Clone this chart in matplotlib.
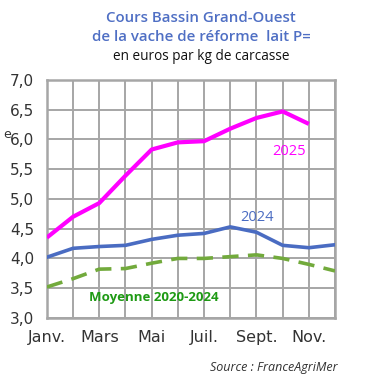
import numpy as np
import matplotlib
matplotlib.use("Agg")
import matplotlib.pyplot as plt

# Données
mois = ["Janv.", "Févr.", "Mars", "Avr.", "Mai", "Juin", "Juil.", "Août", "Sept.", "Oct.", "Nov.", "Déc."]
prix_2025 = [4.35, 4.70, 4.93, 5.39, 5.83, 5.95, 5.97, 6.18, 6.36, 6.47, 6.26]
prix_2024 = [4.02, 4.17, 4.20, 4.22, 4.32, 4.39, 4.42, 4.53, 4.44, 4.22, 4.18, 4.23]
moyenne_2020_2024 = [3.52, 3.66, 3.82, 3.83, 3.92, 4.00, 4.00, 4.03, 4.06, 4.00, 3.90, 3.79]
ticks_y = [3.0, 3.5, 4.0, 4.5, 5.0, 5.5, 6.0, 6.5, 7.0]

plt.rcParams['font.family'] = ['DejaVu Sans']
narrow = ['Liberation Sans Narrow', 'DejaVu Sans']
titre = ['Open Sans', 'DejaVu Sans']

fig = plt.figure(figsize=(3.69, 3.84), dpi=100)
ax = fig.add_axes([0.127, 0.172, 0.781, 0.620])

x = np.arange(len(mois))
ax.plot(x[:len(prix_2025)], prix_2025, color='#ff00ff', lw=3.0, solid_capstyle='butt', solid_joinstyle='round', zorder=4)
ax.plot(x, prix_2024, color='#4a6cc2', lw=2.6, solid_joinstyle='round', zorder=3)
ax.plot(x, moyenne_2020_2024, color='#72aa3c', lw=2.6, dashes=(4.5, 2.6), zorder=3)

ax.set_xlim(0, 11)
ax.set_ylim(3.0, 7.0)
ax.set_yticks(ticks_y)
ax.set_yticklabels([f"{v:.1f}".replace('.', ',') for v in ticks_y], family=narrow)
ax.set_xticks(x, minor=True)
ax.set_xticks(x[::2])
ax.set_xticklabels(mois[::2], family=narrow)
ax.grid(True, which='both', color='#a6a6a6', lw=1.4)
ax.set_axisbelow(True)
for s in ax.spines.values():
    s.set_color('#a6a6a6')
    s.set_linewidth(1.8)
ax.tick_params(which='both', length=0)
ax.tick_params(axis='y', pad=9, labelsize=11, labelcolor='#333333')
ax.tick_params(axis='x', pad=9, labelsize=11.5, labelcolor='#333333')

ax.text(9.25, 5.79, "2025", color='#ff00ff', fontsize=10.5, family=titre, ha='center', va='center')
ax.text(8.02, 4.68, "2024", color='#4a6cc2', fontsize=10.5, family=titre, ha='center', va='center')
ax.text(4.1, 3.35, "Moyenne 2020-2024", color='#1e9a14', fontsize=9.5, family=titre, fontweight='bold', ha='center', va='center')

fig.text(0.545, 0.952, "Cours Bassin Grand-Ouest", color='#4f6fc4', fontsize=10.8, family=titre, fontweight='semibold', ha='center', va='center')
fig.text(0.545, 0.903, "de la vache de réforme  lait P=", color='#4f6fc4', fontsize=10.8, family=titre, fontweight='semibold', ha='center', va='center')
fig.text(0.545, 0.852, "en euros par kg de carcasse", color='#111111', fontsize=9.8, family=titre, ha='center', va='center')
fig.text(0.008, 0.65, "e", color='#333333', fontsize=9, ha='left', va='center')
fig.text(0.915, 0.044, "Source : FranceAgriMer", color='#333333', fontsize=9, family=titre, style='italic', ha='right', va='center')

fig.savefig("out.png", dpi=100)
